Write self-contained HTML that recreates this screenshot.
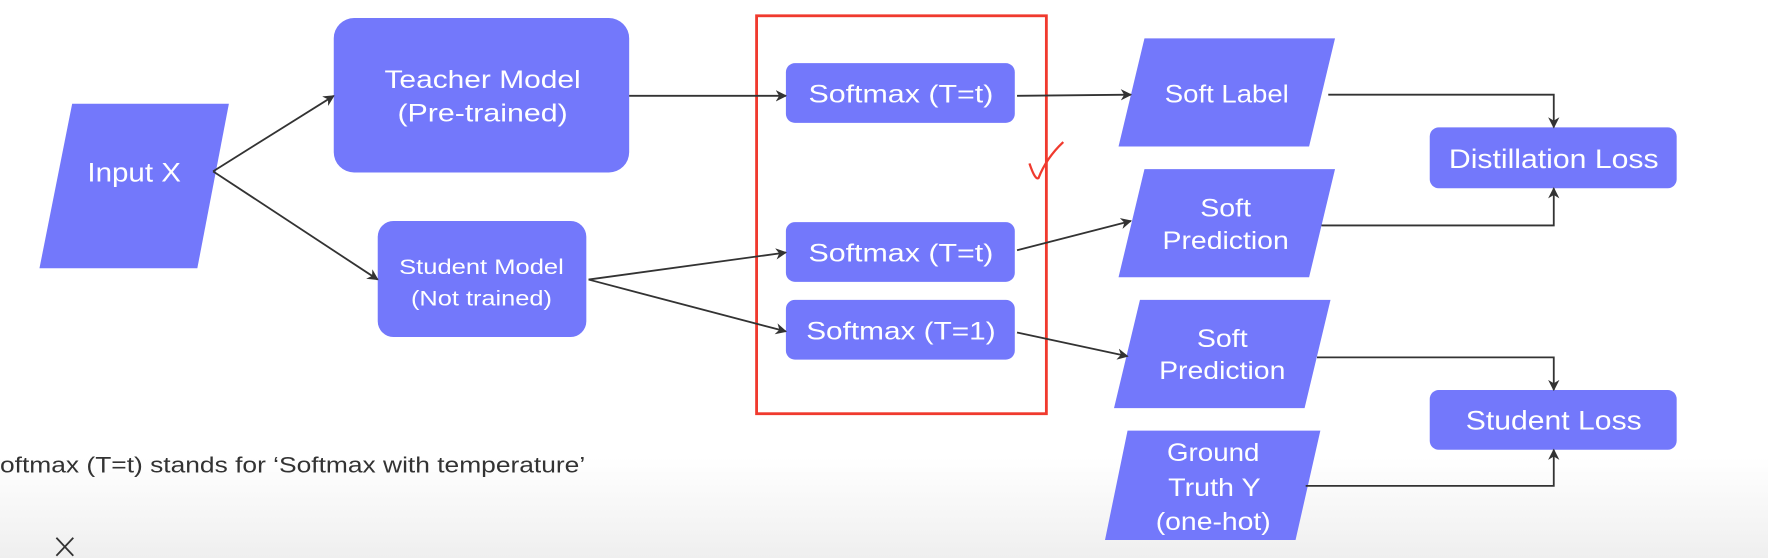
<!DOCTYPE html>
<html><head><meta charset="utf-8"><style>
html,body{margin:0;padding:0;background:#fff;}
svg{display:block;}
text{font-family:"Liberation Sans","Noto Sans CJK KR",sans-serif;}
</style></head><body>
<svg width="1768" height="558" viewBox="0 0 1568 495" preserveAspectRatio="none" xmlns="http://www.w3.org/2000/svg">
<defs>
<linearGradient id="bg" x1="0" y1="0" x2="0" y2="1">
<stop offset="0" stop-color="#ffffff"/><stop offset="0.82" stop-color="#ffffff"/><stop offset="1" stop-color="#efefef"/>
</linearGradient>
<marker id="a" markerWidth="10" markerHeight="10" refX="9" refY="5" orient="auto" markerUnits="userSpaceOnUse">
<path d="M0,0 L10,5 L0,10 L3,5 z" fill="#333"/>
</marker>
</defs>
<rect width="1568" height="495" fill="url(#bg)"/>
<g fill="#7378fb">
<polygon points="64,92 203,92 175,238 35,238"/>
<rect x="296" y="16" width="262" height="137" rx="18"/>
<rect x="335" y="196" width="185" height="103" rx="14"/>
<rect x="697" y="56" width="203" height="53" rx="8"/>
<rect x="697" y="197" width="203" height="53" rx="8"/>
<rect x="697" y="266" width="203" height="53" rx="8"/>
<polygon points="1015,34 1184,34 1161,130 992,130"/>
<polygon points="1015,150 1184,150 1161,246 992,246"/>
<polygon points="1011,266 1180,266 1157,362 988,362"/>
<polygon points="1000,382 1171,382 1149,479 980,479"/>
<rect x="1268" y="113" width="219" height="54" rx="8"/>
<rect x="1268" y="346" width="219" height="53" rx="8"/>
</g>
<rect x="671" y="14" width="257" height="353" fill="none" stroke="#f03a2e" stroke-width="2.5"/>
<path d="M913,145 Q918,160 921,158 Q928,140 943,126" fill="none" stroke="#f03a2e" stroke-width="2"/>
<g stroke="#333" stroke-width="1.6" fill="none" marker-end="url(#a)">
<line x1="189" y1="152" x2="296" y2="85"/>
<line x1="189" y1="152" x2="335" y2="248"/>
<line x1="558" y1="85" x2="697" y2="85"/>
<line x1="522" y1="248" x2="697" y2="224"/>
<line x1="522" y1="248" x2="697" y2="294"/>
<line x1="902" y1="85" x2="1003" y2="84"/>
<line x1="902" y1="222" x2="1003" y2="196"/>
<line x1="902" y1="295" x2="1000" y2="316"/>
<polyline points="1178,84 1378,84 1378,113"/>
<polyline points="1172,200 1378,200 1378,167"/>
<polyline points="1168,317 1378,317 1378,346"/>
<polyline points="1158,431 1378,431 1378,399"/>
</g>
<g fill="#fff" text-anchor="middle" lengthAdjust="spacingAndGlyphs">
<text x="119" y="161" font-size="24" textLength="83" lengthAdjust="spacingAndGlyphs">Input X</text>
<text x="428" y="78" font-size="22" textLength="174" lengthAdjust="spacingAndGlyphs">Teacher Model</text>
<text x="428" y="108" font-size="22" textLength="151" lengthAdjust="spacingAndGlyphs">(Pre-trained)</text>
<text x="427" y="243" font-size="19" textLength="146" lengthAdjust="spacingAndGlyphs">Student Model</text>
<text x="427" y="271" font-size="19" textLength="125" lengthAdjust="spacingAndGlyphs">(Not trained)</text>
<text x="799" y="91" font-size="22" textLength="164" lengthAdjust="spacingAndGlyphs">Softmax (T=t)</text>
<text x="799" y="232" font-size="22" textLength="164" lengthAdjust="spacingAndGlyphs">Softmax (T=t)</text>
<text x="799" y="301" font-size="22" textLength="168" lengthAdjust="spacingAndGlyphs">Softmax (T=1)</text>
<text x="1088" y="91" font-size="22" textLength="110" lengthAdjust="spacingAndGlyphs">Soft Label</text>
<text x="1087" y="192" font-size="22" textLength="45" lengthAdjust="spacingAndGlyphs">Soft</text>
<text x="1087" y="221" font-size="22" textLength="112" lengthAdjust="spacingAndGlyphs">Prediction</text>
<text x="1084" y="308" font-size="22" textLength="45" lengthAdjust="spacingAndGlyphs">Soft</text>
<text x="1084" y="336" font-size="22" textLength="112" lengthAdjust="spacingAndGlyphs">Prediction</text>
<text x="1076" y="409" font-size="22" textLength="82" lengthAdjust="spacingAndGlyphs">Ground</text>
<text x="1077" y="440" font-size="22" textLength="82" lengthAdjust="spacingAndGlyphs">Truth Y</text>
<text x="1076" y="470" font-size="22" textLength="102" lengthAdjust="spacingAndGlyphs">(one-hot)</text>
<text x="1378" y="149" font-size="24" textLength="186" lengthAdjust="spacingAndGlyphs">Distillation Loss</text>
<text x="1378" y="381" font-size="24" textLength="156" lengthAdjust="spacingAndGlyphs">Student Loss</text>
</g>
<text x="0" y="419" font-size="20" fill="#333" textLength="519" lengthAdjust="spacingAndGlyphs">oftmax (T=t) stands for ‘Softmax with temperature’</text>
<g stroke="#333" stroke-width="1.6"><line x1="50" y1="477" x2="65" y2="493"/><line x1="65" y1="477" x2="50" y2="493"/></g>
</svg>
</body></html>
